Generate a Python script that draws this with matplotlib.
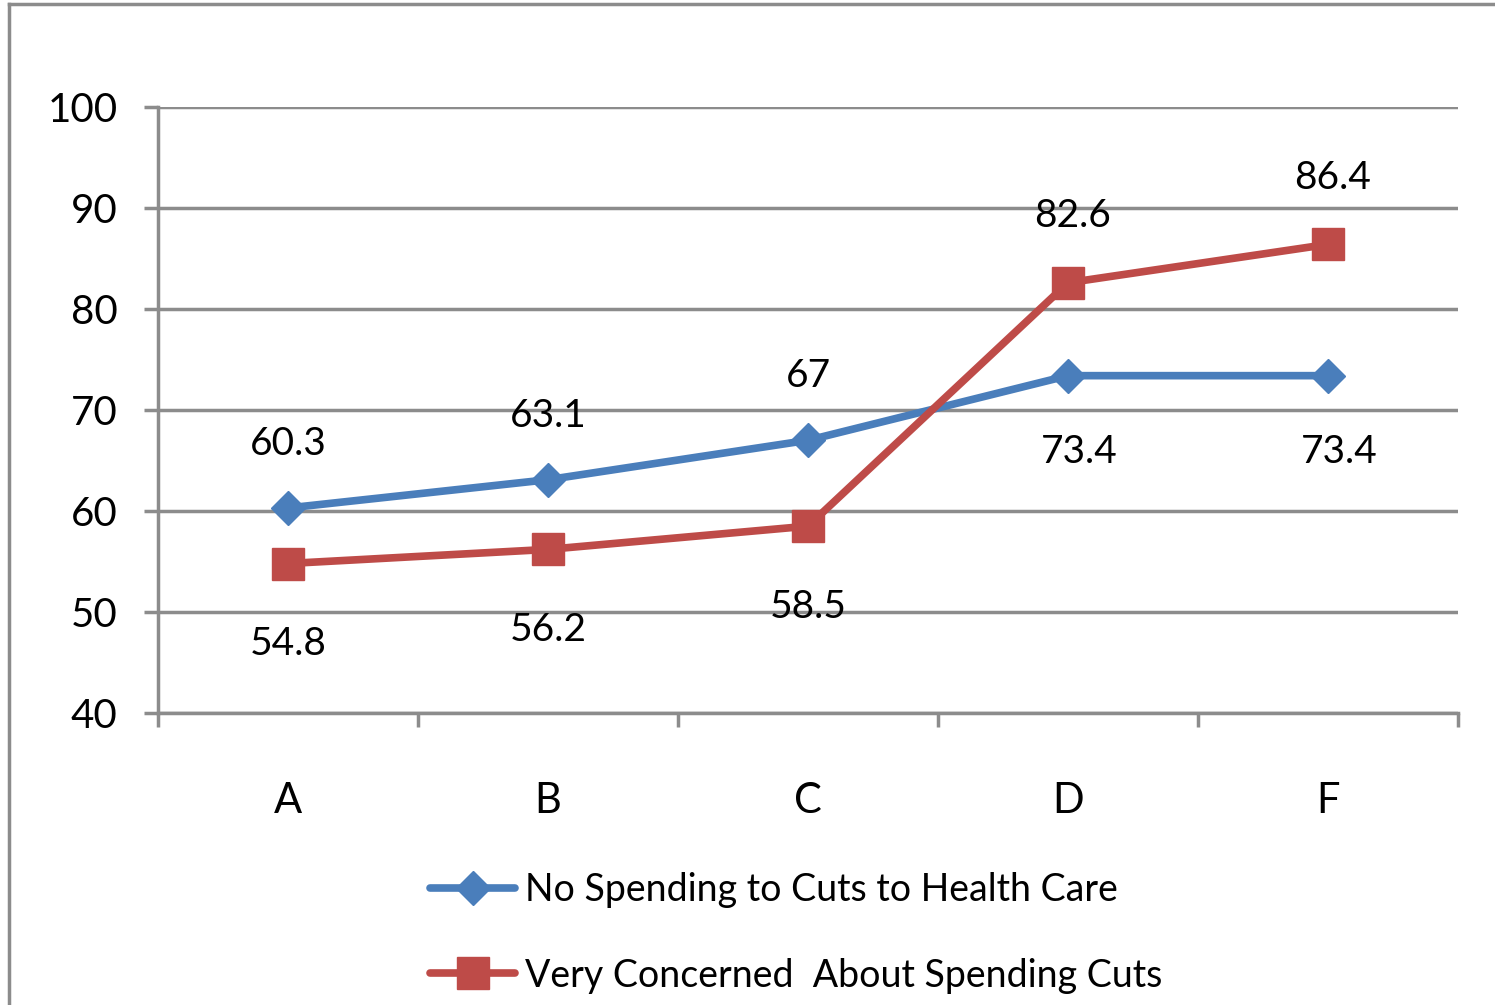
import matplotlib
matplotlib.use("Agg")
import matplotlib.pyplot as plt
from matplotlib import font_manager as fm

categories = ["A", "B", "C", "D", "F"]
no_spending = [60.3, 63.1, 67, 73.4, 73.4]
very_concerned = [54.8, 56.2, 58.5, 82.6, 86.4]
series_names = ["No Spending to Cuts to Health Care", "Very Concerned  About Spending Cuts"]
yticks = [40, 50, 60, 70, 80, 90, 100]

names = {f.name for f in fm.fontManager.ttflist}
fam = [f for f in ["Liberation Sans Narrow", "Lato", "DejaVu Sans"] if f in names]
plt.rcParams['font.family'] = fam

W, H = 1495, 1005
fig = plt.figure(figsize=(W/100, H/100), dpi=100)
ax = fig.add_axes([158/W, 1-713/H, 1300/W, (713-107)/H])

grid_c = "#8c8c8c"
blue = "#4a7ebb"
red = "#be4b48"

x = list(range(len(categories)))
ax.plot(x, no_spending, color=blue, lw=5.5, marker="D", ms=17, mfc=blue, mec=blue, zorder=3,
        label=series_names[0], solid_capstyle="round")
ax.plot(x, very_concerned, color=red, lw=5.5, marker="s", ms=23, mfc=red, mec=red, zorder=3,
        label=series_names[1], solid_capstyle="round")

ax.set_xlim(-0.5, len(categories)-0.5)
ax.set_ylim(40, 100)
ax.set_yticks(yticks)
ax.yaxis.grid(True, color=grid_c, lw=2.5)
ax.set_axisbelow(True)
ax.set_xticks([i-0.5 for i in range(len(categories)+1)])
ax.set_xticklabels([])
ax.set_xticks(x, minor=True)
ax.set_xticklabels(categories, minor=True, fontsize=30)
ax.tick_params(axis="x", which="minor", length=0, pad=50)
ax.tick_params(axis="x", which="major", length=10, width=2.5, color=grid_c)
ax.tick_params(axis="y", length=10, width=2.5, color=grid_c, labelsize=29, pad=19)
for s in ["top", "right"]:
    ax.spines[s].set_visible(False)
for s in ["left", "bottom"]:
    ax.spines[s].set_color(grid_c)
    ax.spines[s].set_linewidth(2.5)

# data labels
for i, (b, r) in enumerate(zip(no_spending, very_concerned)):
    b_above = b >= r
    ax.annotate(f"{b:g}", (i, b), xytext=(0 if b_above else 8, 46 if b_above else -55),
                textcoords="offset points", ha="center", va="center", fontsize=28)
    ax.annotate(f"{r:g}", (i, r), xytext=(3 if not b_above else 0, 48 if not b_above else -58),
                textcoords="offset points", ha="center", va="center", fontsize=28)

fig.legend(loc="center left", bbox_to_anchor=(430/W, 1-933/H), frameon=False, fontsize=27,
           handlelength=2.27, labelspacing=1.31, handletextpad=0.27, borderpad=0, borderaxespad=0)

# partial figure border
fig.add_artist(plt.Line2D([9/W, 9/W], [0, 1-4/H], color=grid_c, lw=2.5, transform=fig.transFigure))
fig.add_artist(plt.Line2D([9/W, 1], [1-4/H, 1-4/H], color=grid_c, lw=2.5, transform=fig.transFigure))

fig.savefig("out.png", dpi=100)
